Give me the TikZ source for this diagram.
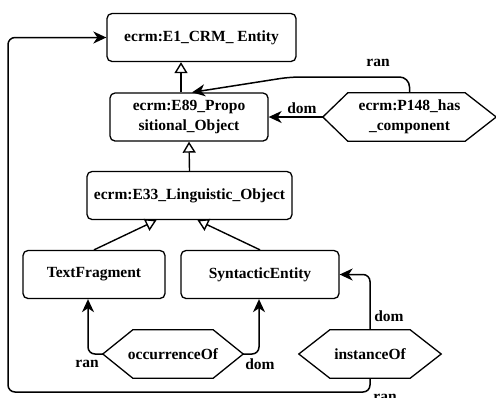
\documentclass[tikz,border=0pt]{standalone}
\usepackage{fontspec}
\setmainfont{Liberation Serif}
\usetikzlibrary{arrows.meta}

\tikzset{
  cls/.style={draw, rounded corners=5bp, line width=1.3bp, align=center, inner sep=0pt, minimum height=48bp},
  prop/.style={inner sep=0pt, align=center, minimum height=48bp},
  hexline/.style={line width=1.3bp},
  isa/.style={line width=1.4bp, -{Triangle[open,length=11bp,width=13bp]}},
  rel/.style={line width=1.5bp, rounded corners=7bp, -{Stealth[length=13bp,width=12bp,inset=4bp]}},
  lbl/.style={inner sep=0pt}
}

\begin{document}
\begin{tikzpicture}[x=1bp, y=-1bp, every node/.style={font=\fontsize{15.5bp}{19.5bp}\selectfont\bfseries}]
    \useasboundingbox (0,0) rectangle (496,397);

    % classes
    \node[cls, minimum width=189bp] (e1) at (201.5,37.5) {ecrm:E1\_CRM\_ Entity};
    \node[cls, minimum width=158bp] (e89) at (189,117) {ecrm:E89\_Propo\\sitional\_Object};
    \node[cls, minimum width=205bp] (e33) at (189.5,195.5) {ecrm:E33\_Linguistic\_Object};
    \node[cls, minimum width=142bp] (tf) at (94,274.5) {TextFragment};
    \node[cls, minimum width=158bp] (se) at (260,274.5) {SyntacticEntity};

    % properties
    \node[prop, minimum width=173bp] (p148) at (409.5,117) {ecrm:P148\_has\\\_component};
    \node[prop, minimum width=140bp] (occ) at (173,354) {occurrenceOf};
    \node[prop, minimum width=142bp] (inst) at (370,354) {instanceOf};
    \foreach \h/\l/\r in {p148/25/31, occ/30/30, inst/31/31}
        \draw[hexline] (\h.west) -- ([xshift=\l bp]\h.north west) -- ([xshift=-\r bp]\h.north east)
            -- (\h.east) -- ([xshift=-\r bp]\h.south east) -- ([xshift=\l bp]\h.south west) -- cycle;

    % subclass links
    \draw[isa] ([xshift=-8bp]e89.north) -- ([xshift=-8bp]e89.north |- e1.south);
    \draw[isa] (e33.north) -- (e89.south);
    \draw[isa] (tf.north) -- ([xshift=-33bp]e33.south);
    \draw[isa] (se.north) -- ([xshift=8bp]e33.south);

    % domain and range
    \draw[rel, rounded corners=10bp] (p148.north) |- (290,77) -- ([xshift=3bp]e89.north);
    \draw[rel] (p148.west) -- (e89.east);
    \draw[rel] (occ.west) -| ([xshift=-6bp]tf.south);
    \draw[rel] (occ.east) -| ([xshift=-1bp]se.south);
    \draw[rel] (inst.north) |- (se.east);
    \coordinate (loop) at (8,392);
    \draw[rel] (inst.south) |- (loop) |- (e1.west);

    \node[lbl] (l1) at (378,63) {ran};
    \node[lbl] (l2) at (302,108) {dom};
    \node[lbl] (l3) at (87,364) {ran};
    \node[lbl] (l4) at (260,364) {dom};
    \node[lbl] (l5) at (389,316) {dom};
    \node[lbl] (l6) at (385,398) {ran};
\end{tikzpicture}
\end{document}
